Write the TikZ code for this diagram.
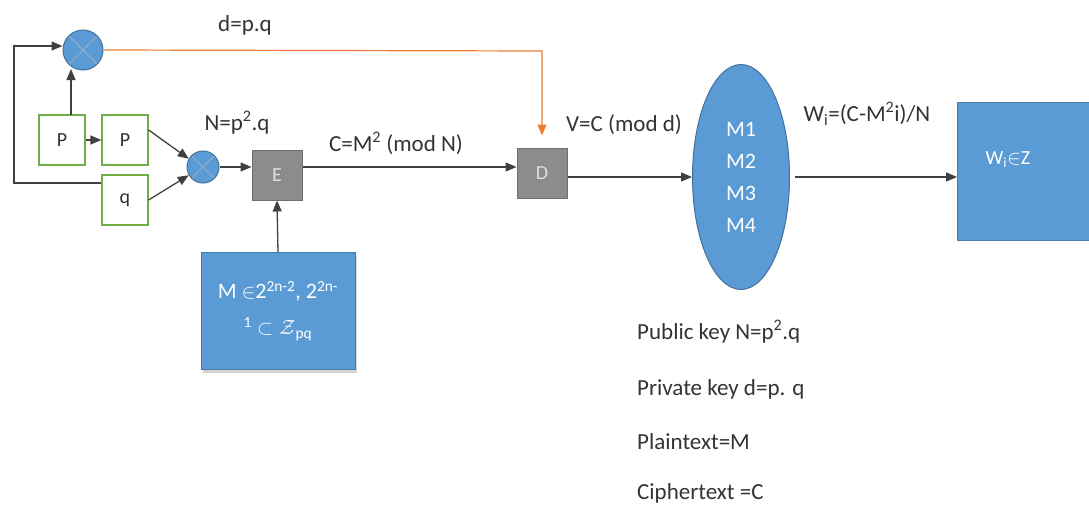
\documentclass[tikz,border=0pt]{standalone}
\usepackage{amsmath,amssymb}
\usepackage{fontspec}
\setmainfont{Carlito}
\usetikzlibrary{arrows.meta,shapes.geometric,shadows,calc}
\definecolor{oblue}{HTML}{5B9BD5}
\definecolor{oblued}{HTML}{41719C}
\definecolor{ogreen}{HTML}{70AD47}
\definecolor{oorange}{HTML}{ED7D31}
\definecolor{ogray}{HTML}{8C8C8C}
\definecolor{ograyd}{HTML}{6E6E6E}
\definecolor{txt}{HTML}{333333}
\newcommand{\sps}[1]{\textsuperscript{#1}}
\tikzset{
  gbox/.style={draw=ogreen, line width=1.2pt, fill=white, minimum width=46pt, minimum height=50pt, inner sep=0pt, font=\fontsize{20}{24}\selectfont, text=txt},
  graybox/.style={draw=ograyd, line width=1pt, fill=ogray, minimum width=50pt, minimum height=50pt, inner sep=0pt, font=\fontsize{20}{24}\selectfont, text=gray!25},
  mult/.style={circle, fill=oblue, draw=oblued, line width=1pt, minimum size=#1, inner sep=0pt,
    path picture={\draw[oblued!60!white, line width=1.2pt] ($(path picture bounding box.north west)+(0.15*#1,-0.15*#1)$) -- ($(path picture bounding box.south east)+(-0.15*#1,0.15*#1)$);
      \draw[oblued!60!white, line width=1.2pt] ($(path picture bounding box.north east)+(-0.15*#1,-0.15*#1)$) -- ($(path picture bounding box.south west)+(0.15*#1,0.15*#1)$);}},
  arr/.style={draw=black!75, line width=1.3pt, -{Triangle[length=11pt,width=9pt]}},
  lbl/.style={font=\fontsize{23}{27}\selectfont, text=txt, inner sep=0pt},
  leg/.style={font=\fontsize{23}{27}\selectfont, text=txt, inner sep=0pt, anchor=west},
}
\begin{document}
\begin{tikzpicture}[x=1pt,y=-1pt]
\useasboundingbox (0,0) rectangle (1089,511);
% nodes
\node[mult=40pt] (m1) at (83,50) {};
\node[gbox] (p1) at (62,140) {P};
\node[gbox] (p2) at (125,140) {P};
\node[gbox] (q) at (125,200) {q};
\node[mult=32pt] (m2) at (203,167) {};
\node[graybox] (E) at (277,175) {E};
\node[graybox] (D) at (542,173) {D};
\node[draw=oblue!80!black, fill=oblue, minimum width=154pt, minimum height=117pt, drop shadow={opacity=0.35, shadow xshift=2pt, shadow yshift=-3pt}, text=white, align=center, font=\fontsize{22}{40}\selectfont] (M) at (278,311) {M $\in$2\sps{2n-2}, 2\sps{2n-}\\[-4pt]\sps{1} $\subset\mathcal{Z}$\textsubscript{pq}};
\node[ellipse, fill=oblue, draw=oblued, line width=1pt, minimum width=97pt, minimum height=225pt, inner sep=0pt, text=white, align=center, font=\fontsize{22}{32}\selectfont] (ell) at (741,177) {M1\\M2\\M3\\M4};
\node[draw=oblue!80!black, fill=oblue, minimum width=133pt, minimum height=138pt, inner sep=0pt, anchor=north west, text=white] (W) at (957,102) {};
\node[text=white, font=\fontsize{20}{24}\selectfont] (wt) at (1008,160) {W\textsubscript{i}$\in$Z};
% coordinates
\coordinate (lx) at (14,183);
\coordinate (ly) at (14,46);
\coordinate (dc) at (542,51);
% connectors
\draw[arr] (q.west |- lx) -- (lx) -- (ly) -- (m1.west |- ly);
\draw[arr] (71,115) -- (71,69);
\draw[arr] (p1.east) -- (p2.west);
\draw[arr] ($(p2.east)+(0,-10)$) -- (m2.150);
\draw[arr] (q.east) -- (m2.210);
\draw[arr] (m2.east) -- (E.west |- m2.east);
\draw[arr] (M.north) -- (E.south);
\draw[arr] (E.east |- 0,167) -- (D.west |- 0,167);
\draw[arr] (D.east |- 0,177) -- (ell.west |- 0,177);
\draw[arr] ($(ell.east |- 0,177)+(5,0)$) -- (W.west |- 0,177);
\draw[oorange, line width=1.2pt, -{Triangle[length=11pt,width=9pt]}] (m1.east) -- (dc) -- ($(D.north)+(0,-12)$);
% labels
\node[lbl] (l1) at (245,25) {d=p.q};
\node[lbl] (l2) at (237,123) {N=p\sps{2}.q};
\node[lbl] (l3) at (396,143) {C=M\sps{2} (mod N)};
\node[lbl] (l4) at (624,125) {V=C (mod d)};
\node[lbl] (l5) at (867,114) {W\textsubscript{i}=(C-M\sps{2}i)/N};
\node[leg] (g1) at (637,332) {Public key N=p\sps{2}.q};
\node[leg] (g2) at (637,389) {Private key d=p. q};
\node[leg] (g3) at (637,442) {Plaintext=M};
\node[leg] (g4) at (637,493) {Ciphertext =C};
\end{tikzpicture}
\end{document}
